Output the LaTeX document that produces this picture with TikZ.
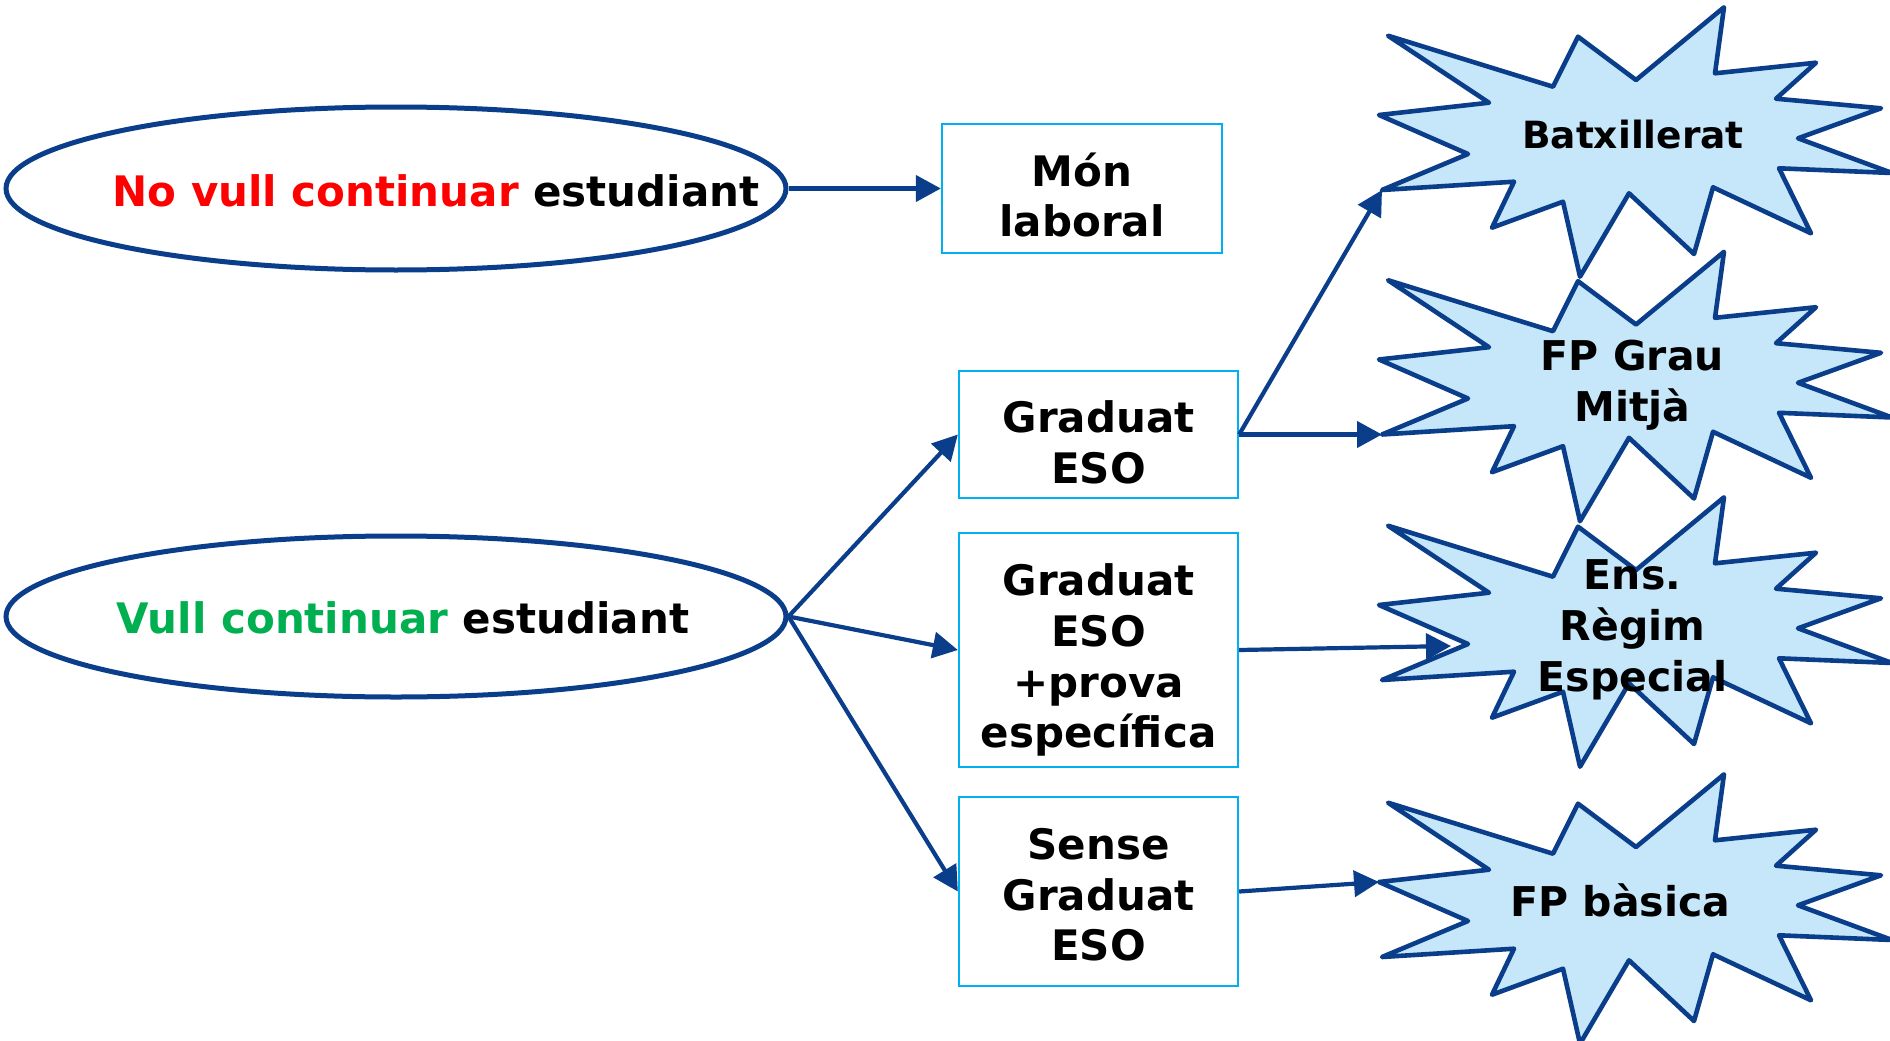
\documentclass[tikz,border=0pt]{standalone}
\usepackage{fontspec}
\setmainfont{DejaVu Sans}
\usetikzlibrary{arrows.meta,shapes.geometric}
\definecolor{dblue}{RGB}{10,62,138}
\definecolor{lblue}{RGB}{0,176,240}
\definecolor{sfill}{RGB}{198,231,250}
\definecolor{tred}{RGB}{255,0,0}
\definecolor{tgreen}{RGB}{0,176,80}
\tikzset{
  ellip/.style={ellipse, draw=dblue, line width=5pt, minimum width=780pt, inner sep=0pt},
  boxs/.style={rectangle, draw=lblue, line width=2.3pt, minimum width=279pt, inner sep=0pt},
  conn/.style={draw=dblue, line width=4.2pt, -{Triangle[length=25pt,width=26pt]}},
  btxt/.style={font=\fontsize{42pt}{50.7pt}\selectfont\bfseries, anchor=base, inner sep=0pt},
  stxt/.style={font=\fontsize{41pt}{51pt}\selectfont\bfseries, anchor=base, inner sep=0pt},
  burstline/.style={draw=dblue, fill=sfill, line width=4.6pt, line join=round},
  burst/.pic={
    \path[burstline] (1388,35.7) -- (1553,86.7) -- (1578,36.7) -- (1636,80) -- (1724,7.3)
      -- (1715,73.3) -- (1816,62.7) -- (1776,98.7) -- (1881,108.3) -- (1798,138.3)
      -- (1892,173) -- (1779,168.3) -- (1811,233.3) -- (1713,187.3) -- (1694,254)
      -- (1629,193.3) -- (1580,276.7) -- (1563,201.7) -- (1492,227.7) -- (1514,181.7)
      -- (1382,190) -- (1468,154) -- (1379,115) -- (1489,102.7) -- cycle;
  }
}
\begin{document}
\begin{tikzpicture}[x=1pt,y=-1pt]
\useasboundingbox (0,0) rectangle (1890,1041);
\fill[white] (0,0) rectangle (1890,1041);

% ellipses
\node[ellip, minimum height=163pt] (e1) at (396,188.5) {};
\node[ellip, minimum height=161pt] (e2) at (396,616.5) {};
\node[btxt] (t1) at (436,206) {{\color{tred}No vull continuar} estudiant};
\node[btxt] (t2) at (403,633) {{\color{tgreen}Vull continuar} estudiant};

% boxes
\node[boxs, minimum width=280pt, minimum height=129pt] (mon) at (1082,188.5) {};
\node[boxs, minimum height=127pt] (grad) at (1098.5,434.5) {};
\node[boxs, minimum height=234pt] (prova) at (1098.5,650) {};
\node[boxs, minimum height=189pt] (sense) at (1098.5,891.5) {};
\node[btxt] (tmon) at (1082,236.7) {\begin{tabular}[b]{@{}c@{}}Món\\laboral\end{tabular}};
\node[btxt] (tgrad) at (1098.5,483) {\begin{tabular}[b]{@{}c@{}}Graduat\\ESO\end{tabular}};
\node[btxt] (tprova) at (1098.5,747.7) {\begin{tabular}[b]{@{}c@{}}Graduat\\ESO\\+prova\\específica\end{tabular}};
\node[btxt] (tsense) at (1098.5,960.7) {\begin{tabular}[b]{@{}c@{}}Sense\\Graduat\\ESO\end{tabular}};

% bursts
\pic (b1) at (0,0) {burst};
\pic (b2) at (0,244.5) {burst};
\pic (b3) at (0,490) {burst};
\pic (b4) at (0,767) {burst};
\node[stxt, font=\fontsize{37.5pt}{45pt}\selectfont\bfseries] (tbatx) at (1633,148.3) {Batxillerat};
\node[stxt] (tfpg) at (1632.5,421) {\begin{tabular}[b]{@{}c@{}}FP Grau\\Mitjà\end{tabular}};
\node[stxt] (tens) at (1632.5,691.7) {\begin{tabular}[b]{@{}c@{}}Ens.\\Règim\\Especial\end{tabular}};
\node[stxt] (tfpb) at (1620.5,916.7) {FP bàsica};

\coordinate (batxIn) at (1382,190);
\coordinate (fpgIn) at (1382,434.5);
\coordinate (ensIn) at (1451,646);
\coordinate (fpbIn) at (1379,882);

% connectors
\draw[conn] (e1.east) -- (mon.west);
\draw[conn] (e2.east) -- (grad.west);
\draw[conn] (e2.east) -- (prova.west);
\draw[conn] (e2.east) -- (sense.west);
\draw[conn] (grad.east) -- (batxIn);
\draw[conn] (grad.east) -- (fpgIn);
\draw[conn] (prova.east) -- (ensIn);
\draw[conn] (sense.east) -- (fpbIn);
\end{tikzpicture}
\end{document}
